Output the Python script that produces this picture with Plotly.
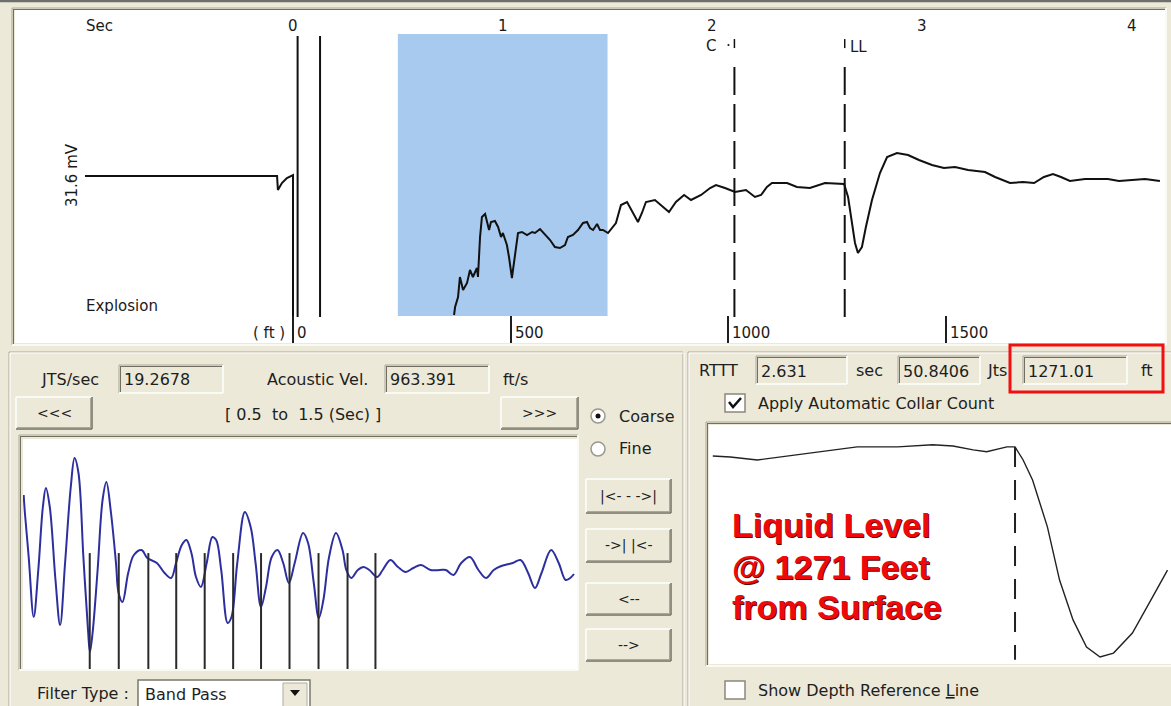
import plotly.graph_objects as go

W, H = 1171, 706
BEIGE = "#ECE9D8"
DARK = "#716F64"
MID = "#ACA899"
INK = "#1E1E1E"
LABEL = "#1A1A1A"
UI_FONT = "DejaVu Sans"

# ---- values ----
# main acoustic trace (time in s, amplitude in relative units)
pre_shot_t = [-0.992, -0.076, -0.072, -0.062, -0.053, -0.029, -0.005, 0.0, 0.0]
pre_shot_amp = [0, 0, -14, -10, -7, -2, 1, 1, -170]
echo_t = [0.768, 0.773, 0.787, 0.796, 0.811, 0.830, 0.844, 0.858, 0.877, 0.882,
          0.892, 0.901, 0.916, 0.925, 0.935, 0.944, 0.963, 0.978, 0.992, 1.001,
          1.020, 1.030, 1.044, 1.049, 1.063, 1.073, 1.092, 1.116, 1.140, 1.154,
          1.178, 1.202, 1.226, 1.249, 1.273, 1.297, 1.311, 1.335, 1.359, 1.383,
          1.402, 1.416, 1.431, 1.450, 1.464, 1.478, 1.502, 1.540, 1.564, 1.593,
          1.621, 1.645, 1.664, 1.683, 1.726, 1.755, 1.793, 1.826, 1.865, 1.898,
          1.946, 1.989, 2.017, 2.060, 2.108, 2.160, 2.203, 2.232, 2.260, 2.284,
          2.356, 2.403, 2.465, 2.537, 2.628, 2.647, 2.661, 2.680, 2.694, 2.713,
          2.732, 2.761, 2.799, 2.833, 2.880, 2.933, 2.985, 3.047, 3.104, 3.157,
          3.219, 3.300, 3.348, 3.419, 3.481, 3.534, 3.581, 3.624, 3.662, 3.705,
          3.777, 3.886, 3.939, 4.029, 4.063, 4.134]
echo_amp = [-139, -131, -121, -101, -114, -107, -94, -101, -92, -101,
            -61, -41, -38, -46, -54, -46, -45, -51, -61, -57,
            -69, -81, -102, -94, -74, -57, -56, -59, -56, -57,
            -53, -59, -64, -71, -72, -69, -61, -59, -54, -47,
            -46, -52, -54, -48, -54, -54, -57, -47, -29, -26,
            -36, -46, -37, -26, -24, -29, -36, -26, -19, -24,
            -19, -12, -9, -12, -16, -14, -21, -19, -11, -7,
            -7, -11, -12, -7, -8, -21, -41, -67, -77, -71,
            -51, -24, 3, 19, 23, 21, 16, 11, 8, 9,
            6, 4, -1, -7, -6, -7, -1, 2, -1, -5,
            -3, -3, -5, -4, -3, -5]
time_ticks = [0, 1, 2, 3, 4]
depth_ticks = [0, 500, 1000, 1500]
shot_marks = [0.022, 0.129]
collar_mark_t = 2.105
liquid_mark_t = 2.631
window_sec = [0.5, 1.5]

jts_per_sec = "19.2678"
acoustic_vel = 963.391
rttt = "2.631"
joints = "50.8406"
liquid_depth = "1271.01"

# band-pass filtered signal inside the 0.5-1.5 s window
filt_t = [0.5066, 0.5088, 0.5156, 0.5246, 0.5328, 0.5410, 0.5464, 0.5534, 0.5636, 0.5719,
          0.5808, 0.5910, 0.5978, 0.6048, 0.6136, 0.6219, 0.6253, 0.6301, 0.6391, 0.6480,
          0.6548, 0.6631, 0.6720, 0.6767, 0.6837, 0.6939, 0.7041, 0.7179, 0.7281, 0.7453,
          0.7591, 0.7708, 0.7796, 0.7900, 0.7982, 0.8072, 0.8154, 0.8242, 0.8346, 0.8448,
          0.8516, 0.8606, 0.8722, 0.8790, 0.8894, 0.9030, 0.9134, 0.9222, 0.9319, 0.9409,
          0.9511, 0.9615, 0.9717, 0.9819, 0.9923, 1.0073, 1.0163, 1.0265, 1.0355, 1.0437,
          1.0539, 1.0663, 1.0780, 1.0848, 1.0937, 1.1054, 1.1158, 1.1260, 1.1398, 1.1500,
          1.1638, 1.1774, 1.1912, 1.2048, 1.2186, 1.2357, 1.2528, 1.2631, 1.2769, 1.2907,
          1.3063, 1.3215, 1.3351, 1.3489, 1.3625, 1.3832, 1.3970, 1.4106, 1.4229, 1.4346,
          1.4518, 1.4654, 1.4778, 1.4860, 1.4928]
filt_amp = [68, 50, 6, -54, -7, 56, 75, 56, -17, -62,
            0, 76, 105, 90, 6, -67, -89, -70, -7, 63,
            81, 50, 0, -30, -39, -10, 8, 13, 5, 0,
            -10, -15, 0, 18, 23, 10, -14, -24, 0, 26,
            23, -7, -60, -54, 0, 51, 36, 0, -44, -24,
            6, 13, 0, -20, 0, 30, 20, -20, -55, -37,
            6, 30, 13, -7, -15, -7, -4, -7, -14, -7,
            3, -4, -9, -5, -2, -7, -7, -7, -12, 0,
            6, -7, -15, -7, -3, 0, 3, -10, -25, -10,
            13, 0, -17, -15, -11]
collar_t = [0.625, 0.677, 0.730, 0.780, 0.831, 0.882, 0.932, 0.983, 1.035, 1.087, 1.137]

# zoomed view around the liquid level echo
detail_t = [2.407, 2.420, 2.440, 2.457, 2.486, 2.514, 2.544, 2.570, 2.585, 2.600, 2.610, 2.625,
            2.631, 2.637, 2.644, 2.655, 2.664, 2.674, 2.684, 2.694, 2.704, 2.718, 2.733, 2.744]
detail_amp = [-11.0, -11.3, -12.3, -11.3, -9.6, -8.0, -8.0, -7.3, -7.7, -9.0, -9.6, -8.0,
              -8.0, -12.3, -18.9, -34.3, -51.8, -64.9, -73.8, -77.1, -75.8, -69.2, -57.3, -48.5]


# %% helpers: screen pixels -> paper
def fx(x):
    return x / W


def fy(y):
    return 1 - y / H


shapes = []
annotations = []


def line(x0, y0, x1, y1, color, width=1, dash=None):
    shapes.append(dict(type="line", xref="paper", yref="paper", x0=fx(x0), y0=fy(y0),
                       x1=fx(x1), y1=fy(y1), line=dict(color=color, width=width, dash=dash)))


def box(x0, y0, x1, y1, fill, color=None, width=0):
    shapes.append(dict(type="rect", xref="paper", yref="paper", x0=fx(x0), y0=fy(y1),
                       x1=fx(x1), y1=fy(y0), fillcolor=fill,
                       line=dict(color=color or fill, width=width)))


def text(x, y, s, size=16, anchor="left", color=INK, family=UI_FONT, **kw):
    annotations.append(dict(xref="paper", yref="paper", x=fx(x), y=fy(y), text=s,
                            showarrow=False, xanchor=anchor, yanchor="middle",
                            font=dict(family=family, size=size, color=color), **kw))


def sunken(x0, y0, x1, y1, fill=None):
    if fill:
        box(x0, y0, x1, y1, fill)
    line(x0, y0, x1, y0, MID)
    line(x0, y0, x0, y1, MID)
    line(x0 + 1, y0 + 1.5, x1 - 1, y0 + 1.5, DARK)
    line(x0 + 1.5, y0 + 1, x0 + 1.5, y1 - 1, DARK)
    line(x0, y1, x1, y1, "white", 1.5)
    line(x1, y0, x1, y1, "white", 1.5)


def raised(x0, y0, x1, y1, label, size=14):
    box(x0, y0, x1, y1, BEIGE)
    line(x0, y0, x1, y0, "white", 1.5)
    line(x0, y0, x0, y1, "white", 1.5)
    line(x0, y1, x1, y1, DARK, 1.5)
    line(x1, y0, x1, y1, DARK, 1.5)
    line(x0 + 1, y1 - 1.5, x1 - 1, y1 - 1.5, MID)
    line(x1 - 1.5, y0 + 1, x1 - 1.5, y1 - 1, MID)
    text((x0 + x1) / 2, (y0 + y1) / 2, label, size, anchor="center")


def etched(x0, y0, x1, y1):
    box(x0, y0, x1, y1, "rgba(0,0,0,0)", MID, 1)
    box(x0 + 1, y0 + 1, x1 + 1, y1 + 1, "rgba(0,0,0,0)", "white", 1)


def field(x0, y0, x1, y1, value):
    sunken(x0, y0, x1, y1, BEIGE)
    text(x0 + 3, (y0 + y1) / 2 + 1, value, 16)


# %% window chrome
line(0, 1, W, 1, "#6E6E6E", 2.5)
sunken(12, 8, 1166, 345)
etched(9, 352, 683, 716)
etched(688, 352, 1180, 716)

fig = go.Figure()

# %% top panel: full acoustic trace
fig.add_trace(go.Scatter(x=pre_shot_t, y=pre_shot_amp, mode="lines",
                         line=dict(color="#111", width=2), xaxis="x", yaxis="y"))
fig.add_trace(go.Scatter(x=echo_t, y=echo_amp, mode="lines",
                         line=dict(color="#111", width=2), xaxis="x", yaxis="y"))
# invisible trace so the depth axis gets drawn
fig.add_trace(go.Scatter(x=depth_ticks, y=[None] * len(depth_ticks), mode="lines",
                         xaxis="x2", yaxis="y", hoverinfo="skip"))

t_range = [-1.3257, 4.1583]
ft_range = [t * acoustic_vel / 2 for t in t_range]

shapes.append(dict(type="rect", xref="x", yref="y domain", x0=window_sec[0], x1=window_sec[1],
                   y0=0.081, y1=0.925, fillcolor="#A9CAEF", line=dict(width=0), layer="below"))
for t in shot_marks:
    shapes.append(dict(type="line", xref="x", yref="y domain", x0=t, x1=t, y0=0.078, y1=0.919,
                       line=dict(color="#111", width=2)))
for t in (collar_mark_t, liquid_mark_t):
    shapes.append(dict(type="line", xref="x", yref="y domain", x0=t, x1=t, y0=0.078, y1=0.853,
                       line=dict(color="#111", width=2, dash="28px,9px")))
    shapes.append(dict(type="line", xref="x", yref="y domain", x0=t, x1=t, y0=0.883, y1=0.910,
                       line=dict(color="#111", width=1.5)))

for t in time_ticks:
    annotations.append(dict(xref="x", yref="paper", x=t, y=fy(26), text=str(t), showarrow=False,
                            xanchor="center", yanchor="middle",
                            font=dict(family=UI_FONT, size=15, color=LABEL)))
for d in depth_ticks:
    annotations.append(dict(xref="x2", yref="paper", x=d, y=fy(333), text=str(d), showarrow=False,
                            xanchor="left", yanchor="middle", xshift=2,
                            font=dict(family=UI_FONT, size=15, color=LABEL)))
annotations.append(dict(xref="x", yref="paper", x=collar_mark_t, y=fy(46), text="C  \u00b7",
                        showarrow=False, xanchor="right", yanchor="middle", xshift=-1,
                        font=dict(family=UI_FONT, size=15, color=LABEL)))
annotations.append(dict(xref="x", yref="paper", x=liquid_mark_t, y=fy(47), text="LL",
                        showarrow=False, xanchor="left", yanchor="middle", xshift=3,
                        font=dict(family=UI_FONT, size=15, color=LABEL)))
text(84, 26, "Sec", 15, color=LABEL)
text(84, 306, "Explosion", 15, color=LABEL)
text(287, 333, "( ft )", 15, anchor="right", color=LABEL)
text(72, 175, "31.6 mV", 15, anchor="center", color=LABEL, textangle=-90)

# %% bottom-left panel: filtered window
fig.add_trace(go.Scatter(x=filt_t, y=filt_amp, mode="lines", line_shape="spline",
                         line=dict(color="#2D2F9E", width=2), xaxis="x3", yaxis="y3"))
for t in collar_t:
    shapes.append(dict(type="line", xref="x3", yref="y3 domain", x0=t, x1=t, y0=0, y1=0.504,
                       line=dict(color="#2A2A2A", width=2)))
sunken(19, 435, 578, 670)

text(39, 380, "JTS/sec", 16)
field(119, 365, 223, 393, jts_per_sec)
text(265, 380, "Acoustic Vel.", 16)
field(385, 365, 489, 393, f"{acoustic_vel:g}")
text(501, 380, "ft/s", 16)
raised(16, 397, 92, 429, "&lt;&lt;&lt;", 14)
raised(501, 397, 578, 429, "&gt;&gt;&gt;", 14)
text(303, 414, f"[ {window_sec[0]:g}\u00a0 to\u00a0 {window_sec[1]:g} (Sec) ]", 16, anchor="center")

shapes.append(dict(type="circle", xref="paper", yref="paper", x0=fx(591), x1=fx(605),
                   y0=fy(423), y1=fy(409), fillcolor="white", line=dict(color="#9A988C", width=1.5)))
shapes.append(dict(type="circle", xref="paper", yref="paper", x0=fx(595.5), x1=fx(600.5),
                   y0=fy(418.5), y1=fy(413.5), fillcolor="#111", line=dict(width=0)))
shapes.append(dict(type="circle", xref="paper", yref="paper", x0=fx(591), x1=fx(605),
                   y0=fy(456), y1=fy(442), fillcolor="white", line=dict(color="#9A988C", width=1.5)))
text(617, 416, "Coarse", 16)
text(617, 449, "Fine", 16)
raised(586, 479, 671, 513, "|&lt;- - -&gt;|", 14)
raised(586, 529, 671, 562, "-&gt;| |&lt;-", 14)
raised(586, 583, 671, 615, "&lt;--", 14)
raised(586, 629, 671, 661, "--&gt;", 14)

text(35, 693, "Filter Type :", 16)
box(138, 680, 310, 712, "white", "#7A786C", 1.5)
box(283, 683, 307, 712, BEIGE, "#B0AE9F", 1)
shapes.append(dict(type="path", xref="paper", yref="paper",
                   path=f"M {fx(290)},{fy(690)} L {fx(300)},{fy(690)} L {fx(295)},{fy(696)} Z",
                   fillcolor="#111", line=dict(width=0)))
text(143, 694, "Band Pass", 16)

# %% bottom-right panel: liquid level detail
fig.add_trace(go.Scatter(x=detail_t, y=detail_amp, mode="lines",
                         line=dict(color="#222", width=1.4), xaxis="x4", yaxis="y4"))
shapes.append(dict(type="line", xref="x4", yref="y4", x0=liquid_mark_t, x1=liquid_mark_t,
                   y0=-8, y1=-78, line=dict(color="#222", width=2, dash="20px,13px")))
sunken(706, 422, 1174, 666)

text(697, 370, "RTTT", 16)
field(756, 356, 847, 384, rttt)
text(854, 370, "sec", 16)
field(898, 356, 980, 384, joints)
text(985, 370, "Jts", 16)
field(1023, 356, 1127, 384, liquid_depth)
text(1139, 370, "ft", 16)
box(1010, 345, 1163, 392, "rgba(0,0,0,0)", "#F01010", 3)

box(725, 394, 745, 412, "white", "#8A887C", 1.5)
shapes.append(dict(type="path", xref="paper", yref="paper",
                   path=f"M {fx(729)},{fy(402)} L {fx(733)},{fy(407)} L {fx(741)},{fy(398)}",
                   line=dict(color="#111", width=2.5)))
text(756, 403, "Apply Automatic Collar Count", 16)
box(725, 681, 745, 699, "white", "#8A887C", 1.5)
text(756, 690, "Show Depth Reference <u>L</u>ine", 16)

for yy, s in [(525, "Liquid Level"), (567, f"@ {liquid_depth.split('.')[0]} Feet"),
              (607, "from Surface")]:
    for color, dx in (("#5A0000", 1.2), ("#EE0A0A", 0)):
        annotations.append(dict(xref="paper", yref="paper", x=fx(730), y=fy(yy), text=f"<b>{s}</b>",
                                showarrow=False, xanchor="left", yanchor="middle",
                                xshift=dx, yshift=-dx,
                                font=dict(family="Liberation Sans", size=34, color=color)))

# %% layout
hidden = dict(visible=False, fixedrange=True)
fig.update_layout(
    width=W, height=H, autosize=False,
    margin=dict(l=0, r=0, t=0, b=0),
    paper_bgcolor=BEIGE, plot_bgcolor="white",
    showlegend=False,
    xaxis=dict(domain=[fx(15), fx(1165)], range=t_range, anchor="y", **hidden),
    yaxis=dict(domain=[fy(343), fy(9)], range=[-167, 167], anchor="x", **hidden),
    xaxis2=dict(overlaying="x", anchor="y", side="bottom", range=ft_range, tickvals=depth_ticks,
                ticks="inside", ticklen=27, tickwidth=2, tickcolor="#1E1E1E",
                showticklabels=False, showgrid=False, zeroline=False, showline=False,
                fixedrange=True),
    xaxis3=dict(domain=[fx(23), fx(577)], range=[0.5054, 1.4982], anchor="y3", **hidden),
    yaxis3=dict(domain=[fy(669), fy(439)], range=[-106, 124], anchor="x3", **hidden),
    xaxis4=dict(domain=[fx(709), fx(1171)], range=[2.4042, 2.7466], anchor="y4", **hidden),
    yaxis4=dict(domain=[fy(664), fy(425)], range=[-79.4, -0.8], anchor="x4", **hidden),
    shapes=shapes,
    annotations=annotations,
    hovermode=False,
)

fig.write_html("out.html", config={"displayModeBar": False},
               post_script="document.body.style.margin='0';document.body.style.overflow='hidden';")
